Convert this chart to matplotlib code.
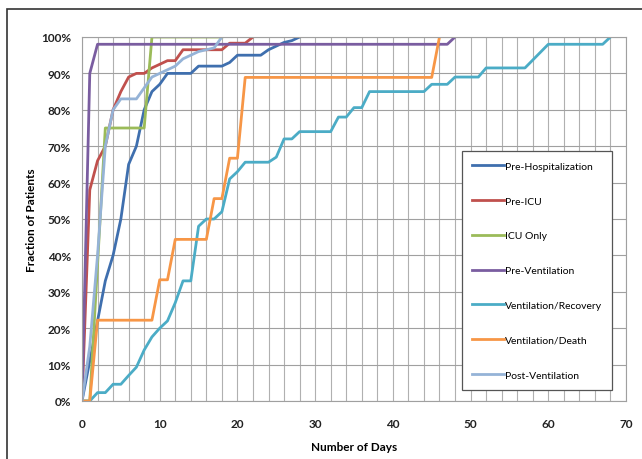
import numpy as np
import matplotlib
matplotlib.use('Agg')
import matplotlib.pyplot as plt
from matplotlib.patches import Rectangle

plt.rcParams['font.family'] = ['Lato', 'DejaVu Sans']

# Cumulative fraction of patients (%) against day
pre_hosp_days = [0, 1, 2, 3, 4, 5, 6, 7, 8, 9, 10, 11, 14, 15, 18, 19, 20, 23, 24, 25, 26, 27, 28]
pre_hosp = [0, 11, 22, 33, 40, 50, 65, 70, 80, 85, 87, 90, 90, 92, 92, 93, 95, 95, 96.5, 97.5, 98.5, 99, 100]

pre_icu_days = [0, 1, 2, 3, 4, 5, 6, 7, 8, 9, 10, 11, 12, 13, 18, 19, 21, 22]
pre_icu = [0, 58, 66, 70, 80, 85, 89, 90, 90, 91.5, 92.5, 93.5, 93.5, 96.5, 96.5, 98.3, 98.3, 100]

icu_only_days = [0, 1, 3, 8, 9, 18]
icu_only = [0, 0, 75, 75, 100, 100]

pre_vent_days = [0, 1, 2, 47, 48]
pre_vent = [0, 90, 98, 98, 100]

vent_rec_days = [0, 1, 2, 3, 4, 5, 6, 7, 8, 9, 10, 11, 12, 13, 14, 15, 16, 17, 18, 19, 20,
                 21, 24, 25, 26, 27, 28, 32, 33, 34, 35, 36, 37, 44, 45, 47, 48, 51, 52, 57, 60, 67, 68]
vent_rec = [0, 0, 2.3, 2.3, 4.6, 4.6, 7, 9.3, 14, 17.6, 20, 22, 27, 33, 33, 48, 50, 50, 52, 61, 63,
            65.6, 65.6, 67, 72, 72, 74, 74, 78, 78, 80.6, 80.6, 85, 85, 87, 87, 89, 89, 91.5, 91.5, 98, 98, 100]

vent_death_days = [0, 1, 2, 9, 10, 11, 12, 16, 17, 18, 19, 20, 21, 45, 46]
vent_death = [0, 0, 22.2, 22.2, 33.3, 33.3, 44.4, 44.4, 55.6, 55.6, 66.7, 66.7, 88.9, 88.9, 100]

post_vent_days = [0, 1, 2, 3, 4, 5, 7, 8, 9, 10, 11, 12, 13, 14, 15, 16, 17, 18]
post_vent = [0, 15, 40, 70, 80, 83, 83, 86, 89, 90, 91, 92, 94, 95, 96, 96.5, 97, 100]

series = [
    ('Pre-Hospitalization', pre_hosp_days, pre_hosp, '#3f6fae'),
    ('Pre-ICU', pre_icu_days, pre_icu, '#c0504d'),
    ('ICU Only', icu_only_days, icu_only, '#9bbb59'),
    ('Pre-Ventilation', pre_vent_days, pre_vent, '#7a5da0'),
    ('Ventilation/Recovery', vent_rec_days, vent_rec, '#4bacc6'),
    ('Ventilation/Death', vent_death_days, vent_death, '#f79646'),
    ('Post-Ventilation', post_vent_days, post_vent, '#95b3d7'),
]

fig = plt.figure(figsize=(6.42, 4.6), dpi=100)
ax = fig.add_axes([82 / 642, 1 - 402 / 460, 544 / 642, 364 / 460])

for name, d, p, c in series:
    ax.plot(d, p, color=c, lw=2.0, label=name, solid_joinstyle='round')

ax.set_xlim(0, 70)
ax.set_ylim(0, 100)
ax.set_xticks(np.arange(0, 71, 10))
ax.set_xticks(np.arange(0, 71, 2), minor=True)
ax.set_yticks(np.arange(0, 101, 10))
ax.set_yticklabels(['%d%%' % v for v in range(0, 101, 10)])
ax.grid(True, which='both', axis='x', color='#b0b0b0', lw=0.8)
ax.grid(True, which='major', axis='y', color='#a0a0a0', lw=0.8)
ax.set_axisbelow(True)
ax.tick_params(which='both', length=0, labelsize=8.5, colors='#222222')
ax.tick_params(axis='x', pad=12)
ax.tick_params(axis='y', pad=8)
for lab in ax.get_xticklabels() + ax.get_yticklabels():
    lab.set_fontweight('bold')
for s in ax.spines.values():
    s.set_color('#a0a0a0')
    s.set_linewidth(0.8)

ax.set_xlabel('Number of Days', fontsize=8.5, fontweight='bold', labelpad=9)
ax.set_ylabel('Fraction of Patients', fontsize=8.5, fontweight='bold', labelpad=3)

leg = ax.legend(loc='upper left', bbox_to_anchor=((462 - 82) / 544, (402 - 152) / 364),
                bbox_transform=ax.transAxes, borderaxespad=0, fontsize=7.5,
                handlelength=3.0, handletextpad=0.1, labelspacing=2.45,
                fancybox=False, framealpha=1, borderpad=1.0)
leg.get_frame().set_edgecolor('#555555')
leg.get_frame().set_linewidth(0.9)

# outer chart frame (only left/top edges visible in the crop)
fig.patches.append(Rectangle((7 / 642, -0.1), 1.2, 1.1 - 10 / 460,
                             transform=fig.transFigure, fill=False,
                             edgecolor='#333333', lw=1.2))

fig.savefig('out.png', dpi=100)
